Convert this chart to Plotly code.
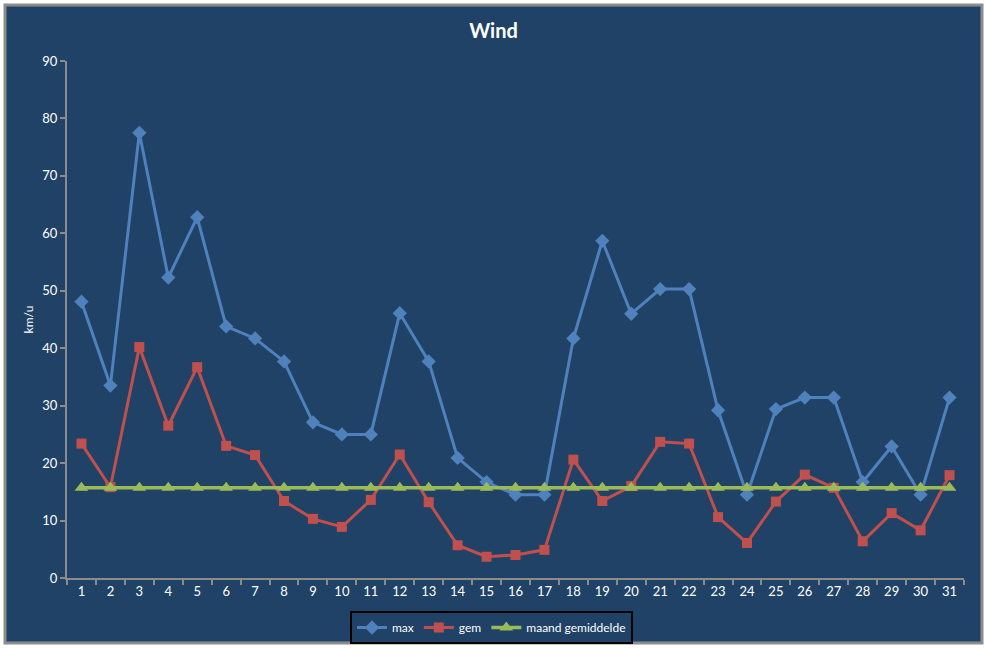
import plotly.graph_objects as go

days = [str(d) for d in range(1, 32)]
max_wind = [48.1, 33.5, 77.5, 52.3, 62.8, 43.8, 41.7, 37.7, 27.1, 25.0,
            25.0, 46.1, 37.7, 20.9, 16.7, 14.5, 14.5, 41.7, 58.7, 46.0,
            50.3, 50.3, 29.2, 14.5, 29.4, 31.4, 31.4, 16.7, 22.9, 14.5, 31.4]
gem_wind = [23.4, 15.8, 40.2, 26.5, 36.7, 23.0, 21.4, 13.4, 10.3, 8.9,
            13.6, 21.5, 13.2, 5.7, 3.7, 4.0, 4.9, 20.6, 13.4, 16.0,
            23.7, 23.4, 10.6, 6.1, 13.3, 18.0, 15.7, 6.4, 11.3, 8.3, 17.9]
maand_gem = [15.7, 15.7, 15.7, 15.7, 15.7, 15.7, 15.7, 15.7, 15.7, 15.7,
             15.7, 15.7, 15.7, 15.7, 15.7, 15.7, 15.7, 15.7, 15.7, 15.7,
             15.7, 15.7, 15.7, 15.7, 15.7, 15.7, 15.7, 15.7, 15.7, 15.7, 15.7]

BG = "#1F4266"
AX = "#8C8C8C"
FONT = "Lato"

fig = go.Figure()
fig.add_trace(go.Scatter(x=days, y=max_wind, name="max", mode="lines+markers",
                         line=dict(color="#4F81BD", width=3),
                         marker=dict(symbol="diamond", size=11, color="#4F81BD")))
fig.add_trace(go.Scatter(x=days, y=gem_wind, name="gem", mode="lines+markers",
                         line=dict(color="#C0504D", width=3),
                         marker=dict(symbol="square", size=10, color="#C0504D")))
fig.add_trace(go.Scatter(x=days, y=maand_gem, name="maand gemiddelde", mode="lines+markers",
                         line=dict(color="#9BBB59", width=3.5),
                         marker=dict(symbol="triangle-up", size=12, color="#9BBB59")))

W, H = 987, 648
L, R, T, B = 67, 23, 61, 70
pw, ph = W - L - R, H - T - B

def px(xp):
    return (xp - L) / pw

def py(yp):
    return (H - B - yp) / ph

fig.update_layout(
    width=W, height=H,
    margin=dict(l=L, r=R, t=T, b=B, autoexpand=False),
    paper_bgcolor="white",
    plot_bgcolor=BG,
    font=dict(family=FONT, color="white", size=13),
    title=dict(text="<b>Wind</b>", x=0.5, xanchor="center", y=1 - 31 / H, yanchor="middle",
               font=dict(family=FONT, size=20, color="white")),
    showlegend=True,
    legend=dict(orientation="h", x=px(491.5), xanchor="center", y=py(611), yanchor="top",
                bordercolor="black", borderwidth=2, bgcolor=BG,
                font=dict(family=FONT, size=12, color="white"), itemwidth=30,
                tracegroupgap=0, valign="middle"),
    shapes=[dict(type="rect", xref="paper", yref="paper",
                 x0=px(5), x1=px(982), y0=py(643), y1=py(5),
                 fillcolor=BG, line=dict(color=AX, width=3), layer="below")],
)
fig.update_xaxes(type="category", range=[-0.5, 30.5], showgrid=False, showline=True,
                 linecolor=AX, linewidth=2, automargin=False,
                 ticks="outside", tickson="boundaries", ticklen=5, tickcolor=AX, tickwidth=2,
                 tickfont=dict(family=FONT, size=13, color="white"), zeroline=False)
fig.update_yaxes(range=[0, 90], dtick=10, showgrid=False, showline=True, linecolor=AX, linewidth=2,
                 ticks="outside", ticklen=5, tickcolor=AX, tickwidth=2, zeroline=False,
                 automargin=False,
                 tickfont=dict(family=FONT, size=13, color="white"),
                 title=dict(text="km/u", font=dict(family=FONT, size=12, color="white"), standoff=6))

fig.write_html("out.html", config={"displayModeBar": False},
               post_script="document.body.style.margin='0';")
